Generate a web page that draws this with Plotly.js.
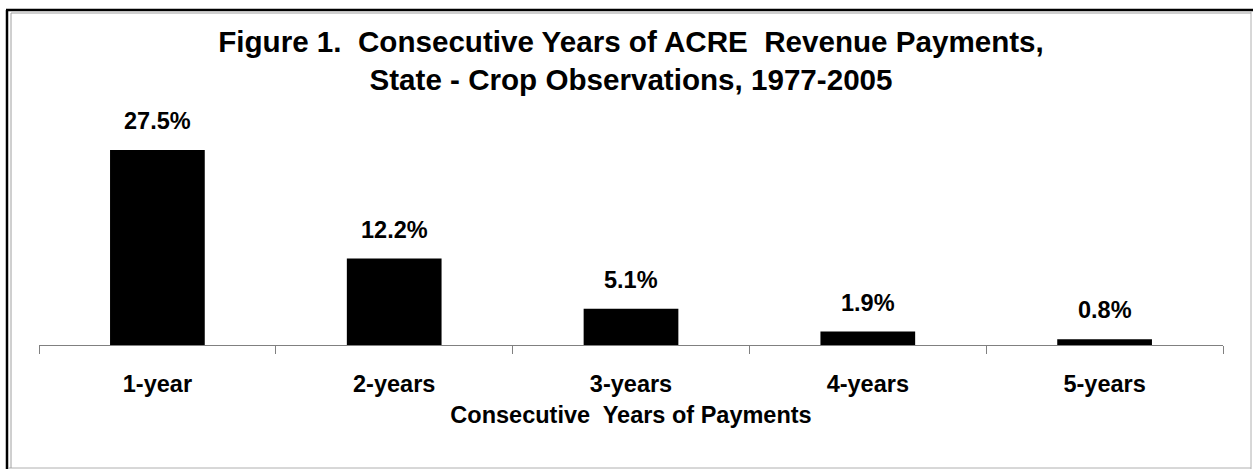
<!DOCTYPE html>
<html><head><meta charset="utf-8">
<script src="https://cdn.plot.ly/plotly-3.0.1.min.js"></script>
<style>html,body{margin:0;padding:0;background:#fff}#chart{width:1253px;height:470px}</style>
</head><body><div id="chart"></div>
<script>
const categories = ["1-year", "2-years", "3-years", "4-years", "5-years"];
const shares = [27.5, 12.2, 5.1, 1.9, 0.8];
const titleText = "Figure 1.  Consecutive Years of ACRE  Revenue Payments,<br>State - Crop Observations, 1977-2005";
const xTitle = "Consecutive  Years of Payments";

const L = 39, R = 30, T = 110, B = 125, W = 1253, H = 470;
const pw = W - L - R, ph = H - T - B;
const px = v => (v - L) / pw;
const py = v => (H - B - v) / ph;
const font = "Liberation Sans, Arial, sans-serif";

const trace = {
  type: "bar", x: categories, y: shares,
  marker: {color: "#000"},
  hoverinfo: "skip"
};

const annotations = categories.map((c, i) => ({
  x: c, y: shares[i], xref: "x", yref: "y",
  text: shares[i].toFixed(1) + "%", showarrow: false,
  yanchor: "bottom", yshift: 14,
  font: {family: font, size: 23.5, color: "#000", weight: "bold"}
}));

const layout = {
  width: W, height: H,
  margin: {l: L, r: R, t: T, b: B},
  paper_bgcolor: "#fff", plot_bgcolor: "#fff",
  bargap: 0.6,
  showlegend: false,
  title: {text: titleText, x: 0.5, xref: "paper", y: 1 - 52/H, yref: "container", yanchor: "top",
          font: {family: font, size: 29.6, color: "#000", weight: "bold"}},
  xaxis: {showline: true, linecolor: "#808080", linewidth: 1,
          ticks: "outside", tickson: "boundaries", ticklen: 8, tickcolor: "#808080",
          ticklabelstandoff: 18,
          tickfont: {family: font, size: 23.5, color: "#000", weight: "bold"},
          showgrid: false, zeroline: false,
          title: {text: xTitle, standoff: 10, font: {family: font, size: 23.5, color: "#000", weight: "bold"}}},
  yaxis: {visible: false, range: [0, ph / 7.09], fixedrange: true},
  annotations: annotations,
  shapes: [
    {type: "line", xref: "paper", yref: "paper", x0: px(7), x1: px(7), y0: py(469), y1: py(10), line: {color: "#000", width: 2.5}},
    {type: "line", xref: "paper", yref: "paper", x0: px(6), x1: px(1253), y0: py(10), y1: py(10), line: {color: "#000", width: 2.5}},
    {type: "line", xref: "paper", yref: "paper", x0: px(1251), x1: px(1251), y0: py(469), y1: py(11), line: {color: "#b0b0b0", width: 1}},
    {type: "line", xref: "paper", yref: "paper", x0: px(8), x1: px(1251), y0: py(468), y1: py(468), line: {color: "#b0b0b0", width: 1}},
    {type: "line", xref: "paper", yref: "paper", x0: px(11), x1: px(11), y0: py(468), y1: py(13), line: {color: "#a0a0a0", width: 1}},
    {type: "line", xref: "paper", yref: "paper", x0: px(11), x1: px(1251), y0: py(13), y1: py(13), line: {color: "#a0a0a0", width: 1}}
  ]
};
Plotly.newPlot("chart", [trace], layout, {displayModeBar: false, staticPlot: true});
</script></body></html>
